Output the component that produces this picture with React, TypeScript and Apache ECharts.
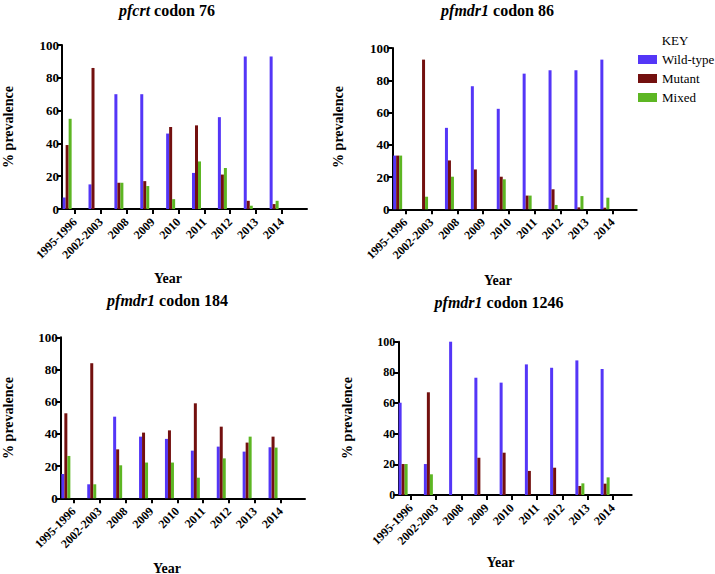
import React, { useEffect, useRef } from "react";
import * as echarts from "echarts";

const years = ["1995-1996", "2002-2003", "2008", "2009", "2010", "2011", "2012", "2013", "2014"];
const seriesNames = ["Wild-type", "Mutant", "Mixed"];

const pfcrt76Wild = [7, 15, 70, 70, 46, 22, 56, 93, 93];
const pfcrt76Mutant = [39, 86, 16, 17, 50, 51, 21, 5, 3];
const pfcrt76Mixed = [55, 0, 16, 14, 6, 29, 25, 2, 5];

const mdr86Wild = [33.3, 0, 50.5, 76.3, 62.3, 84.1, 86.2, 86.2, 92.8];
const mdr86Mutant = [33.3, 92.8, 30.3, 24.7, 20.2, 8.5, 12.4, 1.2, 1];
const mdr86Mixed = [33.3, 7.8, 20.2, 0, 18.6, 8.5, 2.7, 8.2, 7.2];

const mdr184Wild = [15.1, 8.7, 50.7, 38.3, 36.9, 29.6, 32.1, 29, 31.7];
const mdr184Mutant = [52.8, 83.9, 30.4, 40.8, 42.2, 59, 44.5, 34.6, 38.3];
const mdr184Mixed = [26.3, 8.7, 20.5, 22.2, 22.2, 12.8, 24.8, 38.3, 31.5];

const mdr1246Wild = [60.2, 20.2, 100, 76.5, 73.3, 85.2, 83, 87.8, 82.2];
const mdr1246Mutant = [20.2, 67, 0, 24.3, 27.6, 15.7, 17.8, 5.9, 7.4];
const mdr1246Mixed = [20.2, 13.5, 0, 0, 0, 0, 0, 7.6, 11.5];

const colors = ["#5436F7", "#73100F", "#5DB623"];
const FONT = "Liberation Serif";

const panels = [
  { gene: "pfcrt", codon: "codon 76", data: [pfcrt76Wild, pfcrt76Mutant, pfcrt76Mixed],
    axisX: 62, top: 45, bottom: 209, right: 307, unit: 25.875,
    title: [167, 10.5], year: [168, 278], yname: [8.5, 127], yFont: 13 },
  { gene: "pfmdr1", codon: "codon 86", data: [mdr86Wild, mdr86Mutant, mdr86Mixed],
    axisX: 392.5, top: 48, bottom: 209.3, right: 636.7, unit: 25.9,
    title: [497.5, 10.5], year: [498, 280], yname: [338, 127], yFont: 13 },
  { gene: "pfmdr1", codon: "codon 184", data: [mdr184Wild, mdr184Mutant, mdr184Mixed],
    axisX: 60.7, top: 337.3, bottom: 498.3, right: 305, unit: 25.9,
    title: [167.5, 300], year: [167, 568], yname: [8.5, 418], yFont: 13 },
  { gene: "pfmdr1", codon: "codon 1246", data: [mdr1246Wild, mdr1246Mutant, mdr1246Mixed],
    axisX: 398.3, top: 341.7, bottom: 495, right: 631.7, unit: 25.25,
    title: [499, 302], year: [500.5, 562], yname: [347, 418], yFont: 12 },
];

const BAR_SHIFT = 7.8;

function buildOption() {
  const grid: any[] = [];
  const xAxis: any[] = [];
  const yAxis: any[] = [];
  const series: any[] = [];
  const graphic: any[] = [];
  const tickVals = years.map((_, i) => i + 0.5);

  panels.forEach((p, k) => {
    const width = p.right - p.axisX;
    const height = p.bottom - p.top;
    grid.push({ left: p.axisX, top: p.top, width, height, containLabel: false });
    grid.push({ left: p.axisX - BAR_SHIFT, top: p.top, width: p.unit * years.length, height, containLabel: false });

    xAxis.push({
      type: "value",
      gridIndex: 2 * k,
      min: 0,
      max: width / p.unit,
      splitLine: { show: false },
      axisLine: { show: true, onZero: false, lineStyle: { color: "#000", width: 2 } },
      axisTick: { show: true, length: 5, lineStyle: { color: "#000", width: 2 }, customValues: tickVals },
      axisLabel: {
        show: true,
        customValues: tickVals,
        rotate: 45,
        margin: 11,
        color: "#000",
        fontFamily: FONT,
        fontWeight: "bold",
        fontSize: 12,
        formatter: (v: number) => years[Math.round(v - 0.5)] ?? "",
      },
    });
    xAxis.push({ type: "category", gridIndex: 2 * k + 1, data: years, show: false });
    yAxis.push({
      type: "value",
      gridIndex: 2 * k,
      min: 0,
      max: 100,
      interval: 20,
      splitLine: { show: false },
      axisLine: { show: true, lineStyle: { color: "#000", width: 2 } },
      axisTick: { show: true, length: 5, lineStyle: { color: "#000", width: 2 } },
      axisLabel: { color: "#000", fontFamily: FONT, fontWeight: "bold", fontSize: p.yFont, margin: 3 },
    });
    yAxis.push({ type: "value", gridIndex: 2 * k + 1, min: 0, max: 100, show: false });

    seriesNames.forEach((name, s) => {
      series.push({
        type: "bar",
        name,
        xAxisIndex: 2 * k + 1,
        yAxisIndex: 2 * k + 1,
        data: p.data[s],
        barWidth: 3,
        barGap: "0%",
        itemStyle: { color: colors[s] },
        z: 1,
      });
    });

    graphic.push({
      type: "text",
      x: p.title[0],
      y: p.title[1],
      style: {
        text: `{i|${p.gene}} ${p.codon}`,
        fontFamily: FONT,
        fontWeight: "bold",
        fontSize: 16,
        fill: "#000",
        align: "center",
        verticalAlign: "middle",
        rich: { i: { fontStyle: "italic", fontWeight: "bold", fontFamily: FONT, fontSize: 16, fill: "#000" } },
      },
    });
    graphic.push({
      type: "text",
      x: p.year[0],
      y: p.year[1],
      style: { text: "Year", fontFamily: FONT, fontWeight: "bold", fontSize: 14, fill: "#000", align: "center", verticalAlign: "middle" },
    });
    graphic.push({
      type: "text",
      x: p.yname[0],
      y: p.yname[1],
      rotation: Math.PI / 2,
      style: { text: "% prevalence", fontFamily: FONT, fontWeight: "bold", fontSize: 14, fill: "#000", align: "center", verticalAlign: "middle" },
    });
  });

  graphic.push({
    type: "text",
    x: 675,
    y: 40,
    style: { text: "KEY", fontFamily: FONT, fontSize: 13, fill: "#000", align: "center", verticalAlign: "middle" },
  });

  return {
    animation: false,
    backgroundColor: "#fff",
    textStyle: { fontFamily: FONT },
    grid,
    xAxis,
    yAxis,
    series,
    graphic,
    legend: {
      data: seriesNames,
      orient: "vertical",
      left: 633,
      top: 48,
      itemWidth: 19,
      itemHeight: 9,
      itemGap: 6,
      icon: "rect",
      textStyle: { fontFamily: FONT, fontSize: 13, color: "#000" },
    },
  };
}

export default function App() {
  const ref = useRef<HTMLDivElement>(null);
  useEffect(() => {
    if (!ref.current) return;
    const chart = echarts.init(ref.current, undefined, { renderer: "svg" });
    chart.setOption(buildOption() as any);
    return () => chart.dispose();
  }, []);
  return (
    <div
      ref={ref}
      style={{ position: "fixed", left: 0, top: 0, width: 715, height: 574, background: "#fff" }}
    />
  );
}
